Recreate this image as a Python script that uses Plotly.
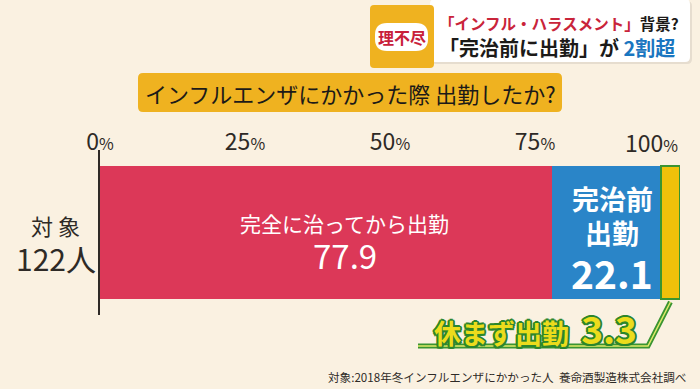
import plotly.graph_objects as go

# ---------------- data ----------------
categories = ["完全に治ってから出勤", "完治前出勤"]
values = [77.9, 22.1]
sub_category = "休まず出勤"
sub_value = 3.3
tick_vals = [0, 25, 50, 75, 100]
tick_texts = ["0", "25", "50", "75", "100"]
sample_lines = ["対 象", "122人"]
title_text = "インフルエンザにかかった際 出勤したか?"
badge_text = "理不尽"
headline_1 = ("「インフル・ハラスメント」", "背景?")
headline_2 = ("「完治前に出勤」が ", "2割超")
source_text = "対象:2018年冬インフルエンザにかかった人  養命酒製造株式会社調べ"

# ---------------- style ----------------
W, H = 700, 389
L, R, T, B = 100, 20, 150, 74
PW, PH = W - L - R, H - T - B
BG = "#faf1e1"
RED = "#dc3858"
BLUE = "#2a85c8"
YEL = "#f0c10a"
GREEN = "#3a9431"
DARK = "#2e2a26"
FONT = "Noto Sans CJK JP"


def px(p):
    return (p - L) / PW


def py(p):
    return (H - B - p) / PH


def rrect(x0, y0, x1, y1, r):
    pts = [
        ("M", (x0 + r, y0)), ("L", (x1 - r, y0)), ("Q", (x1, y0), (x1, y0 + r)),
        ("L", (x1, y1 - r)), ("Q", (x1, y1), (x1 - r, y1)), ("L", (x0 + r, y1)),
        ("Q", (x0, y1), (x0, y1 - r)), ("L", (x0, y0 + r)), ("Q", (x0, y0), (x0 + r, y0)),
    ]
    s = ""
    for item in pts:
        cmd = item[0]
        coords = " ".join(f"{px(a):.5f},{py(b):.5f}" for a, b in item[1:])
        s += f"{cmd}{coords} "
    return s + "Z"


def pct(t, big, small):
    return f"<span style='font-size:{big}px'>{t}</span><span style='font-size:{small}px'>%</span>"


def note(x, y, text, size, color, xanchor="center", yanchor="middle", xref="paper", yref="paper", **kw):
    d = dict(x=x, y=y, xref=xref, yref=yref, text=text, showarrow=False,
             xanchor=xanchor, yanchor=yanchor,
             font=dict(family=FONT, size=size, color=color, **kw.pop("fontkw", {})))
    d.update(kw)
    return d


fig = go.Figure()

# stacked main bar
bases = [0, values[0]]
colors = [RED, BLUE]
for cat, v, b, c in zip(categories, values, bases, colors):
    fig.add_trace(go.Bar(
        y=[0], x=[v], base=[b], orientation="h", width=0.81,
        marker=dict(color=c, line=dict(width=0)), name=cat,
        hoverinfo="skip", showlegend=False,
    ))
# sub-portion of 完治前出勤: 休まず出勤 at the end of the bar
total = sum(values)
fig.add_trace(go.Bar(
    y=[0], x=[sub_value], base=[total - sub_value], orientation="h", width=0.81,
    marker=dict(color=YEL, line=dict(width=2, color=GREEN)), name=sub_category,
    hoverinfo="skip", showlegend=False,
))

ann = []
# labels inside red segment
red_mid = values[0] / 2
ann.append(note(red_mid, 0, categories[0], 21, "white", xref="x", yref="y", xshift=19, yshift=9.5))
ann.append(note(red_mid, 0, f"{values[0]}", 33, "white", xref="x", yref="y", xshift=19, yshift=-22.5))
# labels inside blue segment
blue_mid = (values[0] + total - sub_value) / 2
ann.append(note(blue_mid, 0, "<b>完治前</b>", 27, "white", xref="x", yref="y", xshift=6, yshift=34.5))
ann.append(note(blue_mid, 0, "<b>出勤</b>", 27, "white", xref="x", yref="y", xshift=6, yshift=0.5))
ann.append(note(blue_mid, 0, f"<b>{values[1]}</b>", 39, "white", xref="x", yref="y", xshift=6, yshift=-39.5))

# 100% tick label (right aligned so it stays inside the frame)
ann.append(note(tick_vals[-1], 1, pct(tick_texts[-1], 23, 16), 23, DARK,
                xanchor="right", yanchor="middle", xref="x", yref="paper", yshift=8))

# sample size label
ann.append(note(px(55), py(225), sample_lines[0], 22, DARK))
ann.append(note(px(56), py(258), sample_lines[1], 30, DARK))

# callout 休まず出勤 3.3
outline = ", ".join(f"{dx}px {dy}px 0 #2c862c" for dx, dy in
                    [(-2, 0), (2, 0), (0, -2), (0, 2), (-1.5, -1.5), (1.5, -1.5), (-1.5, 1.5), (1.5, 1.5)])
ann.append(note(px(535), py(328),
                f"<b>{sub_category}  <span style='font-size:37px'>{sub_value}</span></b>",
                27, "#ecdc1c", fontkw=dict(shadow=outline)))

# title
ann.append(note(px(350), py(93), title_text, 22, "#1c1a18"))

# top-right headline
ann.append(note(px(401.5), py(37), f"<b>{badge_text}</b>", 16, "#c8203a"))
ann.append(note(px(437), py(23),
                f"<b><span style='color:#c9243a'>{headline_1[0]}</span>{headline_1[1]}</b>",
                15.5, "#1c1a18", xanchor="left"))
ann.append(note(px(437), py(47),
                f"<b>{headline_2[0]}<span style='color:#1a76c0'>{headline_2[1]}</span></b>",
                20, "#1c1a18", xanchor="left"))

# source
ann.append(note(px(688), py(377), source_text, 11.6, DARK, xanchor="right"))

shapes = []
# title box
shapes.append(dict(type="path", xref="paper", yref="paper", path=rrect(138, 73, 562, 112, 5),
                   fillcolor="#efb220", line=dict(width=0), layer="below"))
# headline white box with soft shadow
shapes.append(dict(type="path", xref="paper", yref="paper", path=rrect(431, 1, 692, 64, 5),
                   fillcolor="#e6ddcf", line=dict(width=0), layer="below"))
shapes.append(dict(type="path", xref="paper", yref="paper", path=rrect(430, -1, 690, 62, 5),
                   fillcolor="white", line=dict(width=0), layer="below"))
# badge tab
shapes.append(dict(type="path", xref="paper", yref="paper", path=rrect(370, 5, 434, 68, 4),
                   fillcolor="#efb220", line=dict(width=0), layer="below"))
shapes.append(dict(type="path", xref="paper", yref="paper", path=rrect(375, 23, 428, 51, 12),
                   fillcolor="white", line=dict(width=0), layer="below"))

# callout leader line (from text underline up to the yellow segment)
sub_mid = total - sub_value / 2
line_path = (f"M{(418 - L) / PW * 100:.3f},{py(346):.4f} "
             f"L{(648 - L) / PW * 100:.3f},{py(346):.4f} "
             f"L{sub_mid:.3f},{py(302):.4f}")
shapes.append(dict(type="path", xref="x", yref="paper", path=line_path,
                   line=dict(color=GREEN, width=5), layer="above"))
shapes.append(dict(type="path", xref="x", yref="paper", path=line_path,
                   line=dict(color="#dfe96a", width=1.5), layer="above"))

fig.update_layout(
    width=W, height=H,
    margin=dict(l=L, r=R, t=T, b=B, autoexpand=False),
    paper_bgcolor=BG, plot_bgcolor=BG,
    barmode="overlay",
    bargap=0,
    annotations=ann,
    shapes=shapes,
    xaxis=dict(range=[0, 100], side="top", tickvals=tick_vals[:-1],
               ticktext=[pct(t, 23, 16) for t in tick_texts[:-1]],
               tickfont=dict(family=FONT, size=23, color=DARK),
               ticklabelstandoff=-6,
               showgrid=False, zeroline=False, showline=False, ticks="",
               fixedrange=True, automargin=False),
    yaxis=dict(range=[-0.5, 0.5], showticklabels=False, showgrid=False, zeroline=False,
               showline=True, linecolor="#2e2a26", linewidth=1.5, ticks="",
               fixedrange=True, automargin=False),
    font=dict(family=FONT),
)

fig.write_html(
    "out.html",
    config={"displayModeBar": False},
    post_script="document.body.style.margin='0';document.body.style.background='" + BG + "';",
)
